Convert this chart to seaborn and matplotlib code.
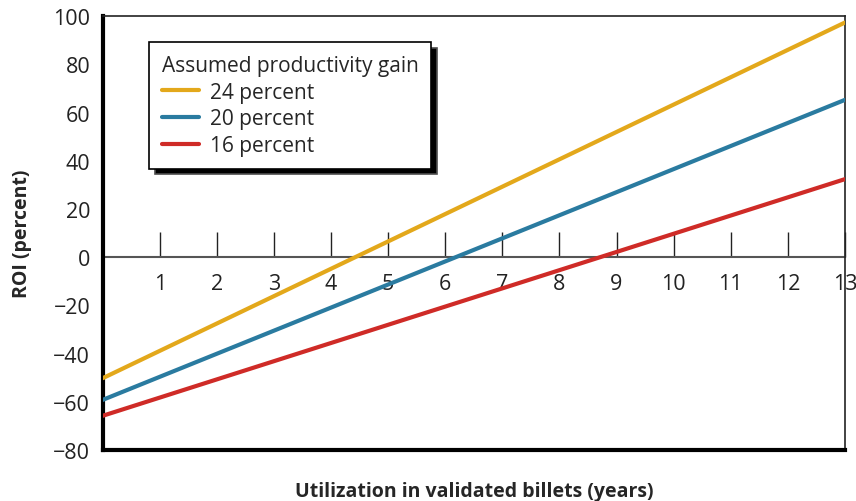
import matplotlib
matplotlib.use('Agg')
import matplotlib.pyplot as plt
import pandas as pd
import seaborn as sns

# data
years = [0, 13]
roi_24 = [-50.2, 97.4]
roi_20 = [-59.2, 65.3]
roi_16 = [-65.8, 32.4]
series_names = ['24 percent', '20 percent', '16 percent']
series_colors = ['#E3A81B', '#2A7BA0', '#CF2B27']
x_ticks = list(range(1, 14))
y_ticks = list(range(-80, 101, 20))

sns.set_style('white')
plt.rcParams['font.family'] = ['Open Sans', 'DejaVu Sans']

df = pd.DataFrame({
    'years': years * 3,
    'roi': roi_24 + roi_20 + roi_16,
    'gain': [n for n in series_names for _ in years],
})

fig = plt.figure(figsize=(8.56, 5.02), dpi=100)
ax = fig.add_axes([0.120, 0.1016, 0.867, 0.864])

sns.lineplot(data=df, x='years', y='roi', hue='gain', hue_order=series_names,
             palette=series_colors, linewidth=3, ax=ax, legend=False, zorder=3)

ax.set_xlim(0, 13)
ax.set_ylim(-80, 100)

# spines: thick left/bottom, thin top/right
for side in ['left', 'bottom']:
    ax.spines[side].set_linewidth(3)
    ax.spines[side].set_color('black')
for side in ['top', 'right']:
    ax.spines[side].set_linewidth(1.2)
    ax.spines[side].set_color('#222222')

ax.set_xticks([])
ax.set_yticks(y_ticks)
ax.set_yticklabels(['\u2212' + str(-v) if v < 0 else str(v) for v in y_ticks])
ax.tick_params(axis='y', direction='in', length=16, width=1, pad=9,
               labelsize=15.5, colors='black', labelcolor='#222222')

# zero line with upward ticks
sec = ax.secondary_xaxis(80 / 180)
sec.set_xticks(x_ticks)
sec.spines['bottom'].set_linewidth(1.5)
sec.spines['bottom'].set_color('#555555')
sec.tick_params(direction='in', length=18, width=1, pad=11, labelsize=15.5,
                colors='#222222')

ax.set_xlabel('Utilization in validated billets (years)', fontsize=14,
              fontweight='bold', labelpad=22)
ax.set_ylabel('ROI (percent)', fontsize=14, fontweight='bold', labelpad=15)

handles = [plt.Line2D([], [], color=c, linewidth=3) for c in series_colors]
leg = ax.legend(handles, series_names, title='Assumed productivity gain',
                loc='upper left', bbox_to_anchor=(0.063, 0.94), borderaxespad=0,
                fontsize=15, title_fontsize=15, frameon=True, fancybox=False,
                edgecolor='black', framealpha=1, handlelength=1.8,
                handletextpad=0.5, labelspacing=0.28, borderpad=0.6,
                alignment='left',
                shadow={'ox': 4, 'oy': -4, 'facecolor': 'black', 'alpha': 1})
leg.get_frame().set_linewidth(1.2)

fig.savefig('out.png', dpi=100)
